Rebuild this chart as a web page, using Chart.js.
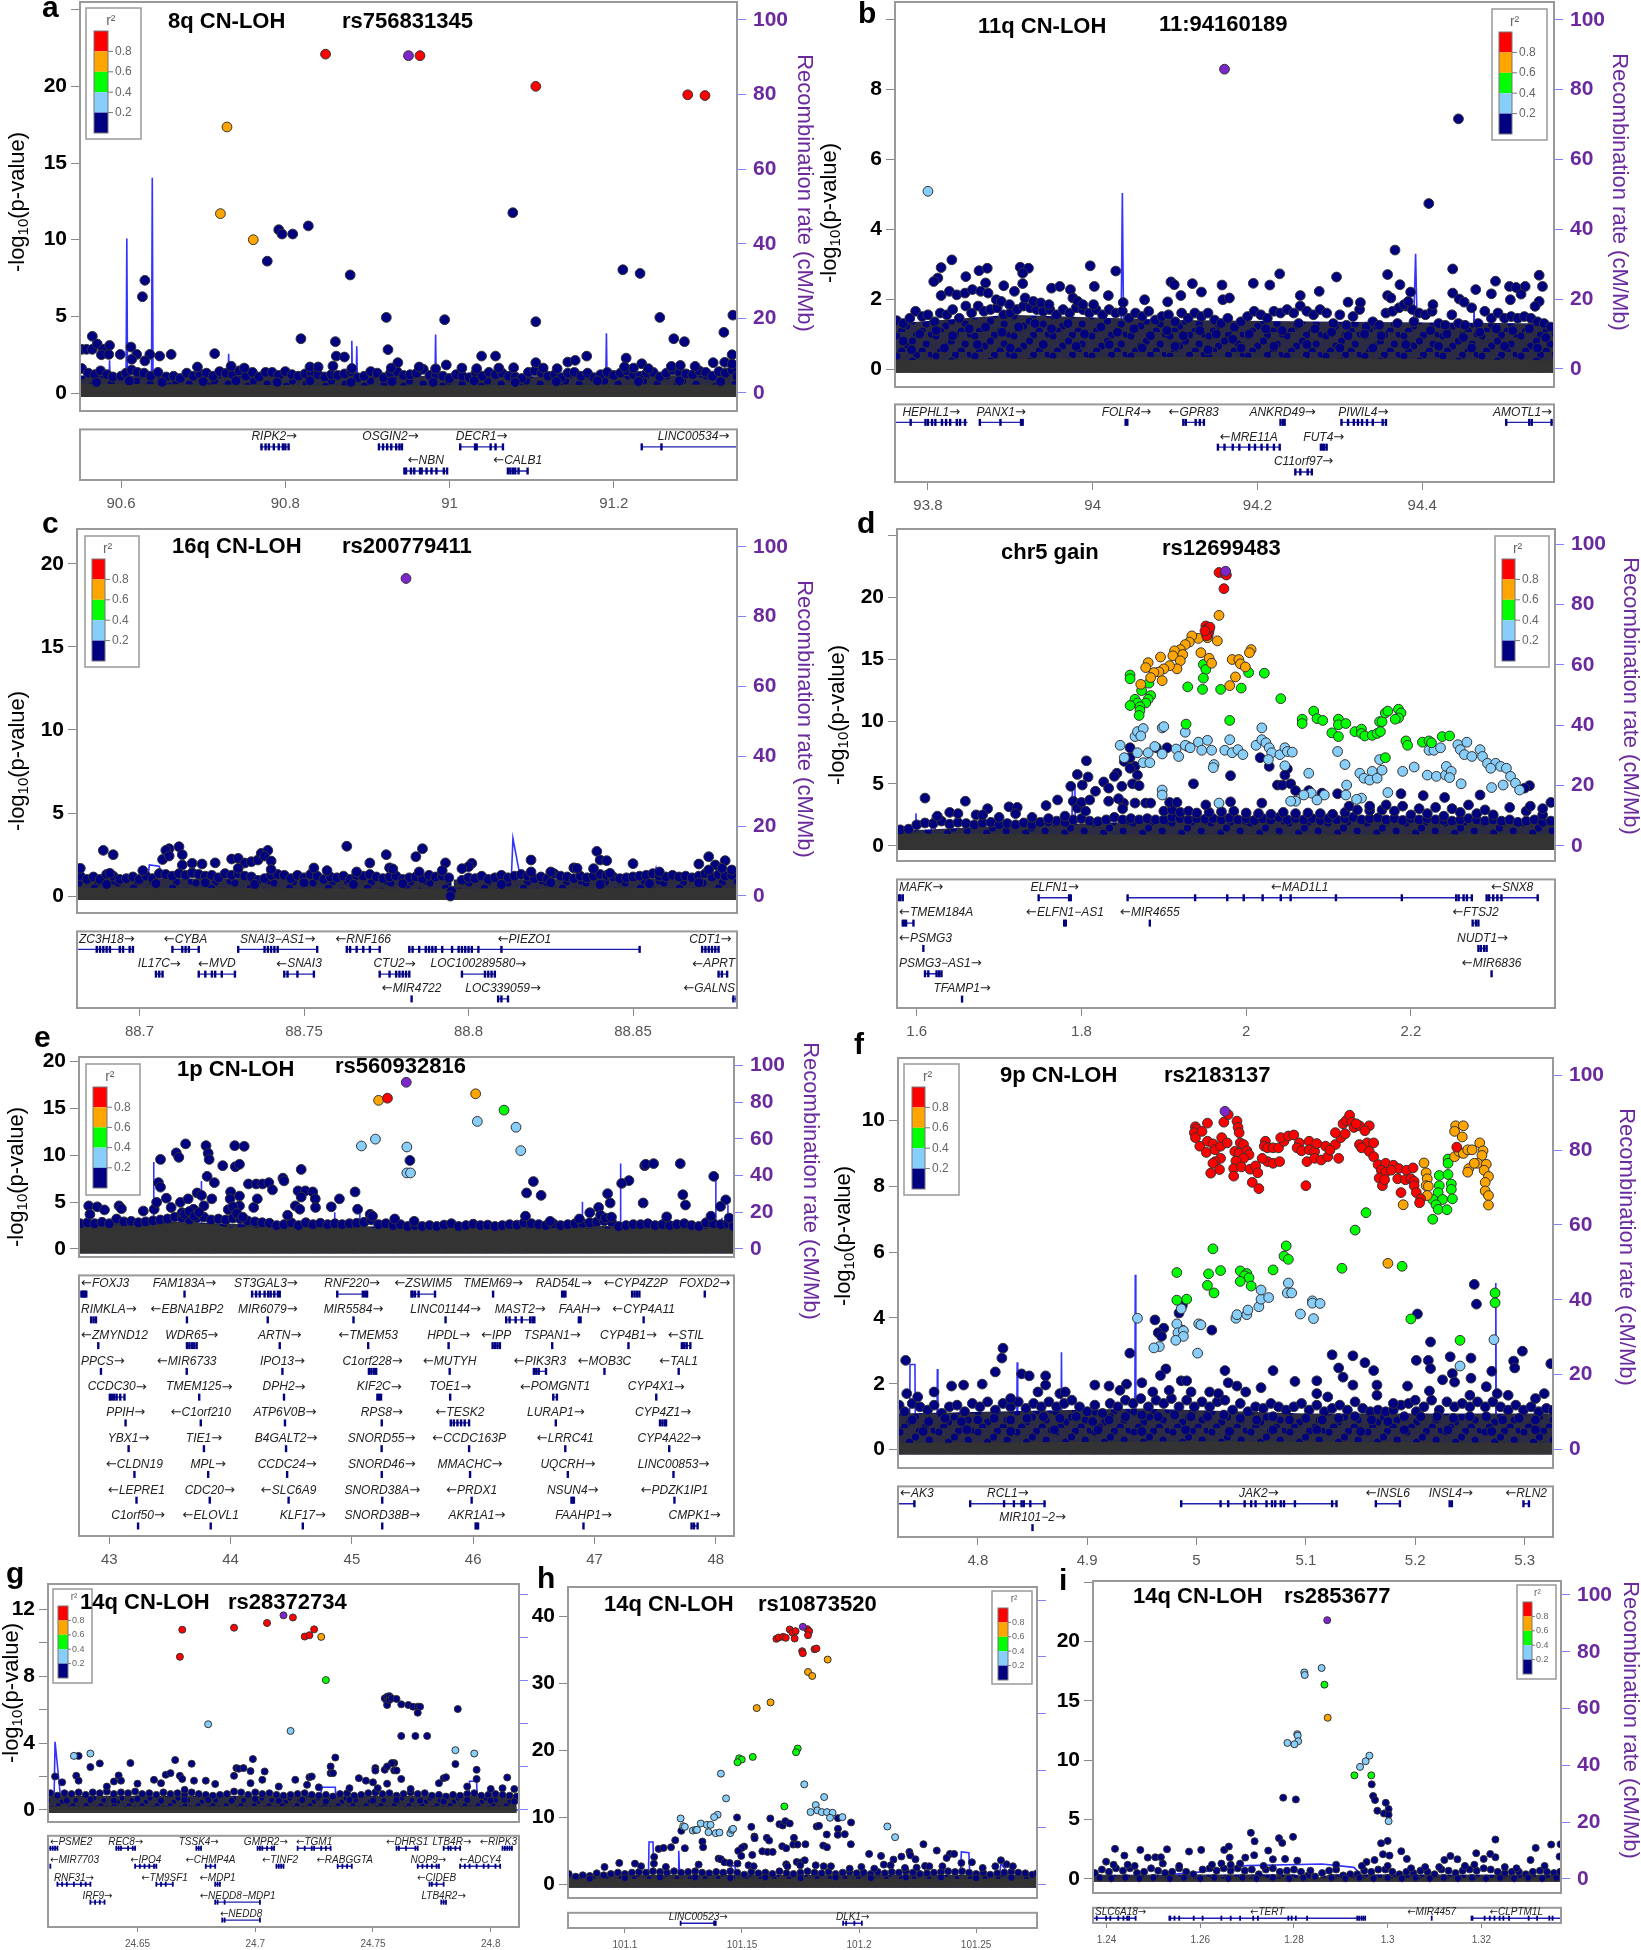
<!DOCTYPE html>
<html>
<head>
<meta charset="utf-8">
<script src="https://cdn.jsdelivr.net/npm/chart.js@4/dist/chart.umd.min.js"></script>
<style>
html,body{margin:0;padding:0;background:#fff;width:1641px;height:1950px;overflow:hidden}
canvas{position:absolute}
</style>
</head>
<body>
<script>
// ---- panel a: 8q CN-LOH
const aPurple=[[90.95,22]];
const aRed=[[90.849,22.1],[90.964,22],[91.105,20],[91.29,19.45],[91.311,19.4]];
const aOrange=[[90.729,17.35],[90.721,11.7],[90.761,10]];
const aNavy=[[91.077,11.76],[90.828,10.9],[90.792,10.65],[90.796,10.37],[90.809,10.37],[90.778,8.6],[90.879,7.7],[91.211,8.04],[91.232,7.8],[90.629,7.35],[90.626,6.28],[90.923,4.93],[90.994,4.78],[91.105,4.65],[91.256,4.93],[91.345,5.08],[91.334,3.96],[91.273,3.54],[91.286,3.35],[90.819,3.54],[90.861,3.35],[90.565,3.7],[90.552,2.85],[90.558,2.85],[90.565,2.85],[90.571,3.2],[90.578,2.85],[90.586,3.1],[90.612,3],[90.925,2.83],[90.576,2.5],[90.585,2.52],[90.599,2.52],[90.619,2.52],[90.635,2.52],[90.647,2.41],[90.661,2.52],[90.714,2.57],[90.862,2.41],[90.872,2.35],[91.039,2.41],[91.056,2.41],[91.167,2.41],[91.215,2.28],[91.344,2.5],[90.858,1.76],[90.937,1.98],[90.996,1.83],[91.144,2.02],[91.153,2.13],[91.105,1.98],[91.234,1.91],[91.321,1.98],[91.015,1.63],[91.033,1.59],[91.078,1.65],[91.114,1.63],[91.131,1.59],[91.224,1.63],[91.242,1.59],[91.27,1.74],[91.281,1.8],[91.299,1.74],[91.213,1.7],[91.335,2],[91.344,1.9],[90.613,2.2],[90.629,2.1],[90.693,1.7],[90.734,1.75],[90.75,1.63],[90.83,1.7],[90.84,1.7],[90.881,1.6],[90.929,1.63],[90.963,1.7],[90.983,1.58],[91.06,1.63]];
const aMass=[[90.552,1.6],[90.56,1.3],[90.568,1.2],[90.575,1.45],[90.583,1.2],[90.59,1.05],[90.6,1.1],[90.606,1.3],[90.613,1.5],[90.62,1.35],[90.628,1.3],[90.636,1.1],[90.645,1.35],[90.655,1.05],[90.664,1.1],[90.672,.95],[90.68,1.3],[90.688,1.1],[90.696,1.25],[90.704,1.3],[90.712,1.1],[90.72,1.4],[90.728,1.3],[90.736,1.2],[90.744,1.45],[90.752,1.1],[90.76,1.35],[90.768,1.05],[90.776,1.35],[90.784,1.35],[90.792,1.15],[90.8,1.4],[90.808,1.2],[90.816,1.1],[90.824,1.25],[90.832,1.3],[90.84,1.2],[90.848,1.05],[90.856,1.2],[90.864,1.15],[90.872,1.25],[90.88,1.4],[90.888,1],[90.896,1.1],[90.904,1.4],[90.912,1.3],[90.92,1],[90.928,1.3],[90.936,1.4],[90.944,1.15],[90.952,1.2],[90.96,1.3],[90.968,1.55],[90.976,1.15],[90.984,1.2],[90.992,1.1],[91,.95],[91.008,1.2],[91.016,1.1],[91.024,1],[91.032,1.3],[91.04,1.1],[91.048,1.35],[91.056,1.2],[91.064,1.3],[91.072,1.1],[91.08,1.05],[91.088,.95],[91.096,1.35],[91.104,1.45],[91.112,1.3],[91.12,1.1],[91.128,1.2],[91.136,1],[91.144,1.3],[91.152,1.35],[91.16,1.1],[91.168,1.3],[91.176,1],[91.184,1.2],[91.192,1.35],[91.2,1.15],[91.208,1.3],[91.216,1.45],[91.224,1.2],[91.232,1.1],[91.24,1.3],[91.248,1.35],[91.256,1.05],[91.264,1.3],[91.272,1.5],[91.28,1.35],[91.288,1.25],[91.296,1.2],[91.304,1.45],[91.312,1.35],[91.32,1.1],[91.328,1.4],[91.336,1.3],[91.344,1.5],[91.35,1.1],[90.57,.7],[90.61,.8],[90.65,.7],[90.7,.75],[90.74,.8],[90.79,.7],[90.83,.8],[90.88,.7],[90.93,.75],[90.98,.7],[91.03,.8],[91.08,.7],[91.13,.75],[91.18,.8],[91.23,.75],[91.28,.8],[91.33,.75]];
const aBand=[[90.55,1.15],[90.8,1.15],[91.1,1.1],[91.35,1.2]];
const aFloor=[[90.55,.6],[90.9,.5],[91.35,.55]];
const aRecX=[90.5,90.585,90.586,90.587,90.606,90.607,90.608,90.637,90.638,90.639,90.73,90.731,90.732,90.88,90.881,90.882,90.886,90.887,90.888,90.982,90.983,90.984,91.19,91.191,91.192,91.35];
const aRecY=[0,0,8.8,0,0,41.4,0,0,57.7,0,0,10.5,0,0,14,0,0,12.5,0,0,15.7,0,0,16,0,0];
const aGenes=[["RIPK2→",0,90.769,90.804,[90.771,90.776,90.78,90.786,90.792,90.797,90.8,90.804]],["OSGIN2→",0,90.914,90.942,[90.914,90.919,90.924,90.929,90.935,90.939,90.942]],["DECR1→",0,91.013,91.065,[91.013,91.031,91.033,91.05,91.056,91.065]],["LINC00534→",0,91.234,91.36,[91.234,91.258]],["←NBN",1,90.945,90.997,[90.945,90.947,90.953,90.957,90.964,90.966,90.972,90.978,90.984,90.993,90.997]],["←CALB1",1,91.071,91.095,[91.071,91.074,91.077,91.08,91.084,91.095]]];

// ---- panel b: 11q CN-LOH
const bPurple=[[94.16,8.57]];
const bSky=[[93.8,5.08]];
const bNavy=[[94.444,7.15],[94.408,4.73],[94.367,3.4],[93.829,3.12],[93.816,2.9],[93.997,2.95],[94.028,2.8],[93.912,2.91],[93.922,2.88],[93.915,2.74],[93.862,2.81],[93.872,2.88],[93.846,2.64],[93.812,2.6],[93.807,2.5],[94.227,2.72],[94.296,2.63],[94.358,2.7],[94.437,2.86],[94.542,2.68],[94.489,2.51],[94.095,2.49],[94.099,2.41],[94.121,2.44],[94.157,2.4],[94.195,2.45],[94.215,2.4],[94.373,2.41],[94.546,2.36],[94.506,2.36],[94.514,2.33],[94.525,2.36],[93.892,2.38],[93.915,2.44],[93.95,2.31],[93.96,2.36],[93.973,2.27],[94.002,2.36],[94.132,2.2],[94.275,2.22],[94.465,2.27],[94.386,2.2],[94.437,2.17],[94.484,2.15],[94.52,2.14],[94.019,2.1],[94.107,2.1],[94.252,2.1],[94.358,2.1],[94.158,1.98],[94.166,2.03],[94.445,2],[94.451,1.91],[94.507,1.98],[93.816,2.1],[93.826,2.22],[93.835,2.12],[93.845,2.17],[93.854,2.27],[93.864,2.22],[93.87,2.46],[93.873,2.17],[93.883,1.98],[93.889,1.93],[93.899,1.84],[93.905,2.22],[93.918,2.03],[93.928,1.93],[93.937,1.89],[93.947,1.84],[93.976,2.03],[93.982,1.93],[93.988,1.84],[94.001,1.84],[94.037,1.9],[94.063,1.98],[94.091,1.92],[94.31,1.91],[94.325,1.9],[94.362,2.03],[94.378,1.84],[94.383,1.93],[94.413,1.84],[94.542,1.93],[94.537,1.79]];
const bMass=[[93.762,1.38],[93.77,1.3],[93.778,1.45],[93.785,1.65],[93.793,1.5],[93.8,1.55],[93.808,1.35],[93.815,1.6],[93.823,1.55],[93.83,1.7],[93.838,1.45],[93.846,1.8],[93.853,1.6],[93.861,1.8],[93.868,1.65],[93.876,1.7],[93.884,1.75],[93.892,1.55],[93.9,1.6],[93.908,1.7],[93.916,1.8],[93.924,1.75],[93.932,1.7],[93.94,1.65],[93.948,1.7],[93.956,1.55],[93.964,1.7],[93.972,1.6],[93.98,1.75],[93.988,1.7],[93.996,1.6],[94.004,1.7],[94.012,1.55],[94.02,1.7],[94.028,1.6],[94.036,1.65],[94.044,1.45],[94.052,1.6],[94.06,1.5],[94.068,1.65],[94.076,1.4],[94.084,1.5],[94.092,1.55],[94.1,1.35],[94.108,1.6],[94.116,1.45],[94.124,1.6],[94.132,1.5],[94.14,1.6],[94.148,1.4],[94.156,1.3],[94.164,1.45],[94.172,1.2],[94.18,1.35],[94.188,1.5],[94.196,1.65],[94.204,1.55],[94.212,1.45],[94.22,1.65],[94.228,1.6],[94.236,1.7],[94.244,1.6],[94.252,1.8],[94.26,1.65],[94.268,1.55],[94.276,1.7],[94.284,1.6],[94.292,1.3],[94.3,1.55],[94.308,1.25],[94.316,1.5],[94.324,1.7],[94.332,1.2],[94.34,1.35],[94.348,1.25],[94.356,1.6],[94.364,1.65],[94.372,1.75],[94.38,1.8],[94.388,1.7],[94.396,1.6],[94.404,1.55],[94.412,1.65],[94.42,1.3],[94.428,1.25],[94.436,1.55],[94.444,1.3],[94.452,1.25],[94.46,1.75],[94.468,1.3],[94.476,1.65],[94.484,1.45],[94.492,1.6],[94.5,1.45],[94.508,1.5],[94.516,1.45],[94.524,1.5],[94.532,1.45],[94.54,1.35],[94.548,1.3],[94.556,1.2],[93.77,.8],[93.79,1],[93.81,1.1],[93.83,.95],[93.85,1.15],[93.87,1.2],[93.89,1.05],[93.91,1.2],[93.93,1.3],[93.95,1.15],[93.97,1.3],[93.99,1],[94.01,1.2],[94.03,1.05],[94.05,1.15],[94.07,.95],[94.09,1.1],[94.11,.95],[94.13,1.1],[94.15,1],[94.17,.85],[94.19,1],[94.21,1.15],[94.23,1.1],[94.25,1.3],[94.27,1.15],[94.29,1.05],[94.31,.95],[94.33,1],[94.35,.95],[94.37,1.3],[94.39,1.35],[94.41,1.1],[94.43,1],[94.45,.9],[94.47,1.05],[94.49,1.15],[94.51,1.1],[94.53,1.15],[94.55,.9],[93.78,.55],[93.82,.6],[93.86,.7],[93.9,.6],[93.94,.7],[93.98,.65],[94.02,.7],[94.06,.6],[94.1,.65],[94.14,.55],[94.18,.6],[94.22,.65],[94.26,.7],[94.3,.6],[94.34,.6],[94.38,.7],[94.42,.65],[94.46,.6],[94.5,.65],[94.54,.6]];
const bBand=[[93.76,1.3],[93.9,1.55],[94.1,1.4],[94.3,1.35],[94.56,1.3]];
const bFloor=[[93.76,.25],[94.1,.35],[94.56,.25]];
const bRecX=[93.7,94.034,94.036,94.038,94.388,94.392,94.395,94.461,94.463,94.465,94.6];
const bRecY=[0,0,50.4,0,0,33,0,0,17,0,0];
const bGenes=[["HEPHL1→",0,93.76,93.848,[93.779,93.797,93.8,93.805,93.809,93.817,93.822,93.827,93.835,93.839,93.845]],["PANX1→",0,93.863,93.915,[93.863,93.888,93.913,93.915]],["FOLR4→",0,94.04,94.042,[94.04,94.042]],["←GPR83",0,94.11,94.135,[94.11,94.113,94.125,94.13,94.135]],["ANKRD49→",0,94.228,94.233,[94.228,94.231,94.233]],["PIWIL4→",0,94.301,94.356,[94.302,94.31,94.317,94.322,94.327,94.333,94.34,94.352,94.356]],["AMOTL1→",0,94.502,94.56,[94.502,94.53,94.533,94.557]],["←MRE11A",1,94.151,94.228,[94.152,94.16,94.17,94.178,94.19,94.197,94.205,94.212,94.22,94.227]],["FUT4→",1,94.277,94.284,[94.277,94.279,94.281,94.284]],["C11orf97→",2,94.246,94.266,[94.246,94.252,94.261,94.266]]];

// ---- panel c: 16q CN-LOH
const cPurple=[[88.781,19.12]];
const cNavy=[[88.763,3],[88.786,2.85],[88.775,2.49],[88.784,2.37],[88.689,2.75],[88.692,2.49],[88.712,2.97],[88.709,2.85],[88.708,2.75],[88.713,2.49],[88.819,2.17],[88.839,2.69],[88.84,2.17],[88.842,2.13],[88.873,2.37],[88.878,2.13],[88.85,1.95],[88.87,1.93],[88.875,1.87],[88.77,1.99],[88.793,2],[88.801,1.97],[88.8,1.77],[88.798,1.65],[88.728,2.23],[88.73,2.27],[88.732,1.99],[88.734,2.07],[88.736,2.17],[88.737,2.57],[88.739,2.75],[88.738,2.41],[88.74,2.11],[88.74,1.6],[88.73,1.67],[88.723,2],[88.719,1.93],[88.716,1.97],[88.707,2.2],[88.709,2.41],[88.713,1.87],[88.776,1.7],[88.777,1.63],[88.792,1.53],[88.819,1.45],[88.832,1.7],[88.833,1.67],[88.838,1.65],[88.843,1.37],[88.682,1.67],[88.701,1.53],[88.753,1.69],[88.757,1.53],[88.766,1.45],[88.785,1.45],[88.825,1.45],[88.858,1.45],[88.873,1.57],[88.877,1.67],[88.88,1.57],[88.691,1.37]];
const cMass=[[88.682,1.2],[88.684,1],[88.686,1.15],[88.688,1],[88.69,1.3],[88.692,1.2],[88.694,1],[88.696,1.05],[88.698,1.15],[88.7,1],[88.702,1.2],[88.704,1.05],[88.706,1.35],[88.708,1.3],[88.71,1.2],[88.712,1.35],[88.714,1.25],[88.716,1.4],[88.718,1.3],[88.72,1.2],[88.722,1.25],[88.724,1.1],[88.726,1.35],[88.728,1.25],[88.73,1.35],[88.732,1.2],[88.734,1.15],[88.736,.95],[88.738,1.05],[88.74,1.25],[88.742,1.3],[88.744,1.25],[88.746,1.05],[88.748,1.25],[88.75,1.1],[88.752,1.3],[88.754,1.2],[88.756,1],[88.758,1.15],[88.76,1.1],[88.762,1.2],[88.764,1],[88.766,1.25],[88.768,1.2],[88.77,1.3],[88.772,1.15],[88.774,1.05],[88.776,1.15],[88.778,1.2],[88.78,1],[88.782,1.1],[88.784,1.15],[88.786,1.05],[88.788,1.25],[88.79,1.15],[88.792,1.2],[88.794,1.1],[88.798,.95],[88.8,1.1],[88.802,1.05],[88.804,1.2],[88.806,1],[88.808,1.1],[88.81,1.25],[88.812,1.1],[88.814,1.2],[88.816,1.3],[88.818,1.2],[88.82,1.05],[88.822,1.15],[88.824,1.05],[88.826,1.35],[88.828,1.2],[88.83,1.15],[88.832,1.05],[88.834,1.2],[88.836,1.1],[88.838,1.2],[88.84,1.3],[88.842,1.25],[88.844,1.15],[88.846,1.05],[88.848,1.1],[88.85,1.15],[88.852,1.2],[88.854,1.25],[88.856,1.35],[88.858,1.2],[88.86,1.15],[88.862,1.25],[88.864,1.15],[88.866,1.2],[88.868,1.1],[88.87,1.2],[88.872,1.35],[88.874,1.15],[88.876,1.3],[88.878,1.2],[88.88,1.25],[88.69,.7],[88.705,.75],[88.72,.8],[88.735,.7],[88.75,.8],[88.765,.7],[88.78,.75],[88.81,.7],[88.825,.8],[88.84,.7],[88.855,.75],[88.87,.8],[88.7948,.3],[88.7945,0]];
const cBand=[[88.681,1.05],[88.7948,1.05],[88.7949,-.24],[88.7954,-.24],[88.7955,1],[88.882,1.05]];
const cFloor=[[88.681,.5],[88.7948,.45],[88.7949,-.24],[88.7954,-.24],[88.7955,.45],[88.882,.5]];
const cRecX=[88.68,88.702,88.703,88.706,88.707,88.7075,88.8128,88.8135,88.816,88.817,88.855,88.857,88.859,88.89];
const cRecY=[0,0,8.9,8.5,5,0,0,16.5,4,0,0,8,0,0];
const cGenes=[["ZC3H18→",0,88.681,88.698,[88.687,88.688,88.689,88.69,88.691,88.694,88.695,88.697,88.698]],["←CYBA",0,88.71,88.718,[88.71,88.713,88.714,88.715,88.718]],["SNAI3−AS1→",0,88.73,88.754,[88.73,88.738,88.739,88.74,88.741,88.742,88.754]],["←RNF166",0,88.763,88.773,[88.763,88.764,88.766,88.768,88.77,88.773]],["←PIEZO1",0,88.782,88.852,[88.782,88.783,88.785,88.787,88.788,88.789,88.79,88.792,88.795,88.797,88.798,88.799,88.8,88.801,88.803,88.81,88.852]],["CDT1→",0,88.871,88.876,[88.871,88.872,88.873,88.874,88.875,88.876]],["IL17C→",1,88.705,88.707,[88.705,88.706,88.707]],["←MVD",1,88.718,88.729,[88.718,88.72,88.722,88.723,88.725,88.729]],["←SNAI3",1,88.744,88.753,[88.744,88.745,88.748,88.753]],["CTU2→",1,88.773,88.782,[88.773,88.776,88.778,88.779,88.78,88.781,88.782]],["LOC100289580→",1,88.798,88.808,[88.798,88.805,88.806,88.807,88.808]],["←APRT",1,88.876,88.8786,[88.876,88.877,88.8786]],["←MIR4722",2,88.7827],["LOC339059→",2,88.809,88.812,[88.809,88.81,88.812]],["←GALNS",2,88.88,88.8815,[88.8805,88.8815]]];

// ---- panel d: chr5 gain
const dPurple=[[1.975,22.1]];
const dRed=[[1.967,22],[1.974,21.9],[1.976,21.8],[1.973,20.7],[1.951,17.7],[1.953,17.5],[1.955,17.3],[1.954,17],[1.952,16.9],[1.956,17.6],[1.95,17.3]];
const dOrange=[[1.967,18.55],[1.965,16.5],[1.953,16.75],[1.942,16.7],[1.934,16.9],[1.931,16.4],[1.926,16.2],[1.92,15.8],[1.913,15.7],[1.923,15.4],[1.911,15.3],[1.896,15.2],[1.92,14.9],[1.916,14.25],[1.907,14.5],[1.9,14.25],[1.894,14],[1.888,13.95],[1.881,14.75],[1.878,14.35],[1.884,13.55],[1.898,13.3],[1.872,13],[1.945,15.55],[1.955,15.1],[1.958,14.7],[1.983,15],[1.991,15],[1.993,14.65],[1.999,14.4],[2.006,15.8],[2.004,15.55],[1.987,13.6],[1.98,12.9]];
const dGreen=[[1.859,13.75],[1.859,13.45],[1.882,13.1],[1.873,12.5],[1.948,14.6],[1.951,14.2],[1.948,13.5],[2.003,13.95],[2.022,13.9],[1.929,12.8],[1.947,12.6],[1.969,12.6],[1.994,12.7],[2.042,11.85],[1.884,12.1],[1.881,11.8],[1.878,11.5],[1.865,11.8],[1.868,11.5],[1.859,11.3],[1.871,11.2],[1.871,10.9],[1.87,10.5],[1.927,9.8],[1.98,10.1],[2.068,10.2],[2.068,9.85],[2.082,10.85],[2.086,10.25],[2.093,10.1],[2.104,9.1],[2.112,8.8],[2.112,10.2],[2.112,9.75],[2.121,9.85],[2.132,9.2],[2.14,9.4],[2.14,9.05],[2.144,8.85],[2.153,8.9],[2.159,9.05],[2.163,9.2],[2.162,10],[2.165,10],[2.169,10.7],[2.172,10.85],[2.185,11],[2.188,10.7],[2.185,10.3],[2.181,10.2],[2.194,8.45],[2.196,8.1],[2.214,8.35],[2.222,8.45],[2.225,8.3],[2.238,8.8],[2.247,8.85],[2.169,7.1]];
const dSky=[[1.847,8.1],[1.865,8.8],[1.868,9.2],[1.875,9.45],[1.872,8.85],[1.898,9.5],[1.9,9.6],[1.926,9.15],[2.019,9.5],[1.852,7.1],[1.868,7.5],[1.881,7.5],[1.889,8],[1.898,7.4],[1.875,6.7],[1.883,6.7],[1.915,7.8],[1.918,7.2],[1.926,8.1],[1.932,7.9],[1.942,8.35],[1.953,8.5],[1.946,7.7],[1.958,7.7],[1.974,7.7],[1.961,6.55],[1.96,6.3],[1.98,8.55],[1.983,7.5],[1.99,7.75],[1.996,7.35],[2.012,8.1],[2.019,8.55],[2.024,8.3],[2.028,7.9],[2.031,7.5],[2.041,7.35],[2.047,7.9],[2.05,7.6],[2.056,7.55],[2.027,6.95],[2.047,6.45],[2.076,5.85],[2.111,7.6],[2.12,6.55],[2.122,4.9],[2.138,5.85],[2.143,5.45],[2.153,6],[2.15,5.3],[2.159,5.45],[2.162,6.95],[2.165,6.1],[2.19,6],[2.204,6.35],[2.22,5.7],[2.222,7.7],[2.228,7.7],[2.236,7.9],[2.231,5.6],[2.242,5.7],[2.243,6.4],[2.249,6],[2.247,5.5],[2.261,5],[2.257,8.15],[2.26,7.75],[2.268,8.35],[2.265,7.35],[2.274,7.2],[2.284,7.75],[2.287,7.2],[2.293,6.65],[2.303,6.65],[2.309,6.4],[2.316,6.25],[2.297,6.25],[2.321,5.6],[2.327,5.05],[2.312,4.9],[2.298,4.7],[2.332,4.5],[2.172,4.3],[2.14,3.85],[2.134,3.75],[2.121,4.1],[2.095,4.1],[2.079,4.25],[2.07,4.1],[2.06,3.6],[2.054,3.6],[2.086,3.7],[1.898,4.5],[1.898,4.1],[1.967,3.45]];
const dNavy=[[1.806,6.85],[1.795,5.75],[1.808,5.55],[1.787,4.8],[1.801,4.9],[1.771,3.7],[1.757,3.25],[1.61,3.85],[1.659,3.6],[1.686,3],[1.712,3.15],[1.722,3.1],[1.852,6.8],[1.859,7.1],[1.865,6.4],[1.843,5.85],[1.859,6.25],[1.868,5.7],[1.84,5.6],[1.862,5],[1.827,5.15],[1.817,4.4],[1.833,4.65],[1.849,4.8],[1.87,4.85],[1.936,5],[1.981,5.65],[2.017,7.1],[2.028,6.4],[2.05,6.2],[2.047,5.7],[2.038,4.9],[2.044,4.9],[2.054,5],[2.06,4.45],[2.076,4.45],[2.092,4.25],[2.111,4.2],[2.188,4.2],[2.215,4.05],[2.241,3.9],[2.284,4.1],[2.344,4.85],[2.338,4.65],[1.891,7.9],[1.904,7.9],[1.929,8],[1.859,7.9],[1.833,3.6],[1.851,3.45],[1.865,3.45],[1.878,3.45],[1.884,3.45],[1.907,3.5],[1.916,3.5],[1.951,3.3],[1.981,3.55],[2.019,3.45],[1.79,3.6],[1.795,3.05],[1.8,3.5],[1.805,2.8],[1.81,3.7],[1.845,3.8],[1.85,3],[2.125,3.2],[2.15,3.2],[2.17,3.3],[2.19,3.2],[2.21,3],[2.23,3.1],[2.25,3],[2.27,3.3],[2.29,2.9],[2.32,3.1],[2.345,3.2],[2.36,3],[2.37,3.5],[1.672,2.5],[1.625,2.4],[1.64,2.7],[1.65,2.6],[1.68,2.5],[1.72,2.6],[1.7,2.3],[1.74,2.3],[1.76,2.2],[1.78,2.4]];
const dMass=[[1.58,1.3],[1.59,1.35],[1.6,1.7],[1.61,1.85],[1.62,1.8],[1.63,2],[1.64,1.75],[1.65,1.9],[1.66,1.8],[1.67,1.7],[1.68,1.85],[1.69,1.9],[1.7,1.7],[1.71,1.8],[1.72,1.7],[1.73,1.85],[1.74,1.7],[1.75,1.9],[1.76,1.95],[1.77,2],[1.78,1.9],[1.79,2.1],[1.8,2.2],[1.81,2],[1.82,1.95],[1.83,2.1],[1.84,2.3],[1.85,2.1],[1.86,2.2],[1.87,2.1],[1.88,2.2],[1.89,2.1],[1.9,2.1],[1.91,2.3],[1.92,2.2],[1.93,2.1],[1.94,2.2],[1.95,2.15],[1.96,2.2],[1.97,2.1],[1.98,2.25],[1.99,2.1],[2,2.2],[2.01,2.05],[2.02,2.2],[2.03,2.1],[2.04,2.3],[2.05,2.1],[2.06,2.2],[2.07,2.1],[2.08,2.2],[2.09,2.05],[2.1,2.2],[2.11,2.1],[2.12,2.2],[2.13,2.3],[2.14,2.1],[2.15,2.2],[2.16,2.25],[2.17,2.1],[2.18,2.2],[2.19,2.05],[2.2,2.2],[2.21,2.1],[2.22,2.2],[2.23,2.1],[2.24,2.05],[2.25,2],[2.26,2.1],[2.27,2.2],[2.28,2.1],[2.29,2],[2.3,2.1],[2.31,2],[2.32,2.1],[2.33,1.9],[2.34,2],[2.35,2.1],[2.36,1.9],[2.37,2],[1.9,2.8],[1.91,2.9],[1.92,2.7],[1.93,2.8],[1.94,2.65],[1.955,2.7],[1.97,2.75],[1.985,2.8],[2,2.65],[2.015,2.6],[2.03,2.55],[2.045,2.7],[2.06,2.6],[2.075,2.65],[2.09,2.6],[2.105,2.55],[2.12,2.7],[2.135,2.9],[2.15,2.85],[2.165,2.9],[2.18,2.8],[2.2,2.5],[2.22,2.6],[2.24,2.4],[2.26,2.7],[2.28,2.6],[2.3,2.5],[2.34,2.8],[2.36,2.5]];
const dBand=[[1.576,1.2],[1.7,1.6],[1.85,1.9],[1.9,2.4],[2.2,2.4],[2.3,2],[2.375,1.8]];
const dFloor=[[1.576,1],[1.85,.9],[2.375,.95]];
const dRecX=[1.55,1.598,1.599,1.6,1.616,1.619,1.622,1.623,1.788,1.789,1.792,1.793,2.4];
const dRecY=[0,0,10.8,0,0,10,10,0,0,18.8,18.8,0,0];
const dGenes=[["MAFK→",0,1.578,1.583,[1.578,1.58,1.583]],["ELFN1→",0,1.748,1.787,[1.748,1.785,1.787]],["←MAD1L1",0,1.856,2.274,[1.856,1.938,1.977,1.997,2.02,2.042,2.054,2.109,2.189,2.255,2.258,2.264,2.268,2.274]],["←SNX8",0,2.292,2.354,[2.292,2.295,2.3,2.305,2.31,2.354]],["←TMEM184A",1,1.583,1.596,[1.583,1.585,1.587,1.596]],["←ELFN1−AS1",1,1.779,1.781,[1.779,1.781]],["←MIR4655",1,1.883],["←FTSJ2",1,2.275,2.282,[2.275,2.279,2.282]],["←PSMG3",2,1.608],["NUDT1→",2,2.282,2.292,[2.282,2.285,2.289,2.292]],["PSMG3−AS1→",3,1.61,1.63,[1.61,1.614,1.624,1.627,1.63]],["←MIR6836",3,2.298],["TFAMP1→",4,1.655]];

// ---- panel e: 1p CN-LOH
const ePurple=[[45.448,17.8]];
const eRed=[[45.293,16.1]];
const eOrange=[[45.22,15.87],[46.02,16.57]];
const eGreen=[[46.254,14.83]];
const eSky=[[45.078,11],[45.194,11.73],[45.453,10.89],[46.034,13.62],[46.353,13],[46.392,10.5],[45.453,8.12],[45.483,8.12]];
const eNavy=[[43.629,11.22],[43.552,10.26],[43.573,9.78],[43.797,11.03],[43.815,10.22],[43.823,9.56],[44.034,11.03],[44.112,10.96],[43.422,9.56],[43.935,8.89],[44.039,8.78],[44.073,9.04],[44.582,8.49],[45.478,9.45],[43.806,7.75],[43.866,7.08],[43.405,7.08],[43.422,6.6],[44.147,6.94],[44.211,6.94],[44.263,6.94],[44.315,7.08],[44.345,6.31],[44.431,7.56],[44.44,7.27],[44.556,6.2],[44.616,6.2],[44.677,6.09],[45.026,6.09],[44,6.09],[44.073,5.65],[44.582,5.54],[44.698,5.35],[44.897,5.35],[46.496,7.2],[46.44,5.98],[46.56,5.72],[47.414,8.89],[47.422,9.04],[47.487,9.11],[47.707,9.11],[47.983,7.75],[47.284,7.3],[47.224,7],[47.108,5.9],[47.129,4.91],[47.401,4.91],[47.728,5.79],[47.75,4.69],[48.082,5.24],[48.039,4.54],[47.595,3.43],[46.961,3.87],[47.034,4.43],[46.431,3.5],[42.83,4.6],[42.84,3.7],[42.9,4.5],[42.96,4.17],[43.08,4.6],[43.1,4.3],[43.28,4.05],[43.37,4.24],[43.39,4.98],[43.47,5.42],[43.51,4.43],[43.586,4.98],[43.65,5.35],[43.724,5.98],[43.76,5.72],[43.845,5.35],[43.78,4.6],[43.694,4.24],[43.6,3.87],[43.996,5.35],[44.073,4.6],[44.19,4.43],[44.22,5.35],[44.534,4.6],[44.57,4.24],[44.83,4.5],[44.7,4.43],[45.047,4.24],[44.47,3.6],[45.15,3.7],[45.17,3.5],[45.353,3.2],[45.513,2.95],[46.634,2.95],[47.96,3.5],[46.875,3.2],[48.11,3.3],[43.62,3.7],[43.66,4],[43.7,3.5],[43.74,3.9],[43.98,4.2],[44.02,4.5],[44.05,3.8],[44.1,3.4],[47.05,3.6],[47.09,3.3],[47.14,3.4]];
const eMass=[[42.76,2.7],[42.82,2.8],[42.88,2.7],[42.94,2.85],[43,2.7],[43.06,3.2],[43.12,2.9],[43.18,2.95],[43.24,2.8],[43.3,2.9],[43.36,3],[43.42,3.1],[43.48,3.2],[43.54,3.4],[43.6,3.3],[43.66,3.1],[43.72,3.3],[43.78,3.4],[43.84,3.1],[43.9,3.2],[43.96,3.1],[44.02,3.3],[44.08,3.2],[44.14,3],[44.2,2.9],[44.26,2.8],[44.32,2.75],[44.38,2.5],[44.44,2.6],[44.5,2.8],[44.56,2.5],[44.62,2.8],[44.68,2.6],[44.74,2.75],[44.8,2.6],[44.86,2.7],[44.92,2.6],[44.98,2.7],[45.04,2.75],[45.1,2.85],[45.16,3.1],[45.22,2.6],[45.28,2.7],[45.34,2.5],[45.4,2.6],[45.46,2.4],[45.52,2.5],[45.58,2.4],[45.64,2.5],[45.7,2.4],[45.76,2.55],[45.82,2.7],[45.88,2.4],[45.94,2.5],[46,2.65],[46.06,2.5],[46.12,2.55],[46.18,2.4],[46.24,2.5],[46.3,2.6],[46.36,2.55],[46.42,2.8],[46.48,2.7],[46.54,2.6],[46.6,2.5],[46.66,2.7],[46.72,2.5],[46.78,2.6],[46.84,2.7],[46.9,2.75],[46.96,2.8],[47.02,2.9],[47.08,3],[47.14,2.9],[47.2,2.4],[47.26,2.5],[47.32,2.6],[47.38,2.6],[47.44,2.7],[47.5,2.5],[47.56,2.6],[47.62,2.5],[47.68,2.6],[47.74,2.7],[47.8,2.5],[47.86,2.4],[47.92,2.8],[47.98,2.7],[48.04,2.6],[48.1,2.7],[48.145,2.4]];
const eBand=[[42.75,2.65],[43.5,2.9],[44.2,2.6],[45.5,2.35],[46.5,2.45],[48.15,2.45]];
const eFloor=[[42.75,2.3],[43.6,2.8],[43.8,2.7],[44,2.3],[48.15,2.15]];
const eRecX=[42.7,43.365,43.366,43.367,43.758,43.759,43.76,44.857,44.858,44.859,45.064,45.065,45.066,46.899,46.9,46.901,47.214,47.215,47.216,47.659,47.66,47.661,47.999,48,48.001,48.049,48.05,48.051,48.099,48.1,48.101,48.2];
const eRecY=[0,0,47.4,0,0,37,0,0,20,0,0,20,0,0,25.7,0,0,46.6,0,0,16,0,0,38,0,0,17,0,0,24,0,0];
const eGenes=[["←FOXJ3",0,42.77,42.81,[42.77,42.78,42.79,42.8,42.81]],["FAM183A→",0,43.62],["ST3GAL3→",0,44.177,44.405,[44.177,44.21,44.24,44.28,44.31,44.33,44.36,44.39,44.405]],["RNF220→",0,44.879,45.125,[44.879,45.09,45.11,45.125]],["←ZSWIM5",0,45.491,45.685,[45.491,45.5,45.52,45.55,45.685]],["TMEM69→",0,46.164],["RAD54L→",0,46.733,46.76,[46.733,46.745,46.76]],["←CYP4Z2P",0,47.31,47.37,[47.31,47.33,47.35,47.37]],["FOXD2→",0,47.909],
["RIMKLA→",1,42.85,42.89,[42.85,42.87,42.89]],["←EBNA1BP2",1,43.64],["MIR6079→",1,44.306],["MIR5584→",1,45.013],["LINC01144→",1,45.772],["MAST2→",1,46.272,46.504,[46.272,46.3,46.35,46.4,46.47,46.49,46.504]],["FAAH→",1,46.871,46.885,[46.871,46.885]],["←CYP4A11",1,47.405],
["←ZMYND12",2,42.909],["WDR65→",2,43.64,43.72,[43.64,43.66,43.68,43.7,43.72]],["ARTN→",2,44.405],["←TMEM53",2,45.134],["HPDL→",2,45.797],["←IPP",2,46.16,46.22,[46.16,46.18,46.2,46.22]],["TSPAN1→",2,46.651],["CYP4B1→",2,47.28],["←STIL",2,47.72,47.79,[47.72,47.74,47.76,47.79]],
["PPCS→",3,42.931],["←MIR6733",3,43.638],["IPO13→",3,44.427],["C1orf228→",3,45.14,45.2,[45.14,45.16,45.18,45.2]],["←MUTYH",3,45.806],["←PIK3R3",3,46.5,46.6,[46.5,46.52,46.54,46.6]],["←MOB3C",3,47.082],["←TAL1",3,47.694],
["CCDC30→",4,43.004,43.125,[43.004,43.02,43.04,43.06,43.09,43.125]],["TMEM125→",4,43.741],["DPH2→",4,44.44],["KIF2C→",4,45.21,45.24,[45.21,45.224,45.24]],["TOE1→",4,45.81],["←POMGNT1",4,46.66,46.69,[46.66,46.69]],["CYP4X1→",4,47.509],
["PPIH→",5,43.134],["←C1orf210",5,43.754],["ATP6V0B→",5,44.448],["RPS8→",5,45.246],["←TESK2",5,45.815,45.966,[45.815,45.84,45.87,45.9,45.93,45.966]],["LURAP1→",5,46.681],["CYP4Z1→",5,47.54,47.59,[47.54,47.56,47.58,47.59]],
["YBX1→",6,43.159],["TIE1→",6,43.78],["B4GALT2→",6,44.457],["SNORD55→",6,45.245],["←CCDC163P",6,45.966],["←LRRC41",6,46.759],["CYP4A22→",6,47.616],
["←CLDN19",7,43.207],["MPL→",7,43.815],["CCDC24→",7,44.466],["SNORD46→",7,45.246],["MMACHC→",7,45.974],["UQCRH→",7,46.78],["LINC00853→",7,47.651],
["←LEPRE1",8,43.224],["CDC20→",8,43.828],["←SLC6A9",8,44.478],["SNORD38A→",8,45.25],["←PRDX1",8,45.987],["NSUN4→",8,46.81,46.83,[46.81,46.82,46.83]],["←PDZK1IP1",8,47.659],
["C1orf50→",9,43.237],["←ELOVL1",9,43.836],["KLF17→",9,44.595],["SNORD38B→",9,45.25],["AKR1A1→",9,46.02,46.04,[46.02,46.03,46.04]],["FAAHP1→",9,46.909],["CMPK1→",9,47.8,47.85,[47.8,47.82,47.85]]];

// ---- panel f: 9p CN-LOH
const fPurple=[[5.026,10.28]];
const fRed=[[4.999,9.81],[5,9.74],[4.998,9.63],[4.999,9.48],[5.005,9.67],[5.01,9.92],[5.003,9.22],[5.009,9.03],[5.01,9.37],[5.015,9.29],[5.017,9.11],[5.022,9.22],[5.023,9.48],[5.028,9.32],[5.025,9.95],[5.029,10.18],[5.037,9.98],[5.038,9.79],[5.039,9.63],[5.04,9.32],[5.043,9.27],[5.035,9.06],[5.039,9.01],[5.046,9.08],[5.048,8.96],[5.043,8.85],[5.036,8.77],[5.022,8.85],[5.017,8.75],[5.015,8.7],[5.021,8.51],[5.013,8.4],[5.034,8.54],[5.034,8.31],[5.041,8.59],[5.049,8.52],[5.054,8.62],[5.056,8.41],[5.051,8.12],[5.057,7.93],[5.063,9.37],[5.062,9.22],[5.065,9.17],[5.07,9.17],[5.075,9.17],[5.08,9.37],[5.077,9.48],[5.084,9.53],[5.089,9.56],[5.094,9.32],[5.092,9.17],[5.096,9.08],[5.103,9.37],[5.103,9.11],[5.108,9.06],[5.101,8.75],[5.108,8.85],[5.114,8.8],[5.118,9.22],[5.12,8.9],[5.127,9.27],[5.13,8.85],[5.132,9.48],[5.127,9.63],[5.134,9.9],[5.137,10],[5.14,10.16],[5.142,9.95],[5.144,9.79],[5.149,9.84],[5.158,9.84],[5.154,9.69],[5.149,9.27],[5.156,9.32],[5.162,9.32],[5.151,9.17],[5.158,9.06],[5.162,8.9],[5.166,8.66],[5.173,8.7],[5.18,8.64],[5.185,8.54],[5.169,8.49],[5.167,8.25],[5.173,8.43],[5.178,8.49],[5.192,8.49],[5.198,8.56],[5.17,8.02],[5.172,8.2],[5.184,8.23],[5.191,8.2],[5.196,8.23],[5.199,8.15],[5.187,7.81],[5.199,8.02],[5.201,7.81],[5.205,7.62],[5.204,7.5],[5.1,8.02],[5.238,9.19],[5.065,8.75],[5.07,8.7],[5.076,8.75],[5.06,8.85],[5.11,9.3],[5.122,9.1],[5.136,9.6],[5.146,9.9]];
const fOrange=[[5.208,8.71],[5.21,8.41],[5.211,8.23],[5.21,8.02],[5.212,8],[5.211,7.72],[5.189,7.44],[5.237,9.84],[5.244,9.84],[5.236,9.67],[5.243,9.5],[5.236,8.9],[5.24,9.06],[5.244,9],[5.248,9.11],[5.252,9.11],[5.259,9.32],[5.262,9.08],[5.261,8.94],[5.257,8.7],[5.265,8.67],[5.249,8.54],[5.254,8.7],[5.248,8.43],[5.263,8.49],[5.267,8.3],[5.264,8.12],[5.264,7.86],[5.267,7.72],[5.267,7.43],[5.175,5.66]];
const fGreen=[[5.23,8.83],[5.23,8.7],[5.222,8.33],[5.23,8.36],[5.233,8.07],[5.233,7.91],[5.222,8.02],[5.221,7.81],[5.225,7.6],[5.234,7.62],[5.216,7.6],[5.219,7.44],[5.221,7.3],[5.229,7.29],[5.216,7],[5.155,7.2],[5.145,6.67],[5.082,6.19],[5.015,6.1],[5.08,5.88],[5.084,5.78],[5.133,5.51],[5.188,5.57],[5.07,5.46],[4.982,5.38],[5.011,5.34],[5.022,5.44],[5.04,5.43],[5.046,5.35],[5.044,5.28],[5.048,5.22],[5.04,5.11],[5.01,4.99],[5.05,4.97],[5.016,4.76],[5.273,4.76],[4.991,4.57],[4.982,4.54],[5.273,4.46],[5.196,3.97],[5.241,3.32]];
const fSky=[[4.946,3.99],[4.986,4.28],[4.982,3.82],[4.983,3.55],[4.988,3.61],[4.988,3.44],[4.981,3.32],[4.966,3.13],[4.961,3.09],[5.002,3.82],[5.004,3.79],[5.001,2.93],[5.036,3.99],[5.037,4.1],[5.046,4.1],[5.047,4.24],[5.057,4.34],[5.059,4.57],[5.059,4.85],[5.066,4.62],[5.084,5.06],[5.083,4.76],[5.087,4.76],[5.095,4.12],[5.106,4.52],[5.106,4.45],[5.113,4.44],[5.107,3.98],[5.272,3.34],[5.241,2.54]];
const fNavy=[[5.254,5.02],[5.256,4.42],[5.202,4.12],[4.987,4.38],[4.984,4.15],[4.962,3.94],[4.987,3.63],[4.97,3.69],[4.965,3.55],[4.968,3.44],[5.014,3.63],[5.214,3.27],[4.939,2.93],[4.823,3.08],[4.822,2.78],[4.816,2.36],[4.734,2.71],[5.124,2.88],[5.143,2.85],[5.154,2.64],[5.162,2.4],[5.13,2.48],[5.134,2.2],[5.143,1.96],[5.201,2.71],[5.212,2.71],[5.214,2.46],[5.232,2.82],[5.251,2.78],[5.234,2.31],[5.251,2.17],[5.298,2.99],[5.29,2.69],[5.291,2.48],[5.324,2.61],[5.27,2.38],[4.972,2.45],[4.967,2.25],[5.026,2.4],[5.07,2.4],[5.09,2.07],[5.11,2.09],[4.84,2.3],[4.847,2.24],[4.862,2.24],[4.862,1.96],[4.804,1.99],[4.776,1.93],[4.787,1.96],[4.95,2.03],[4.986,2.09],[4.991,2.09],[5.029,2.03],[5.225,2.12],[5.236,2.05],[4.907,1.96],[4.92,1.93],[4.936,1.99],[5.037,1.93],[5.059,1.88],[5.165,1.96],[5.193,1.93],[5.213,1.78],[5.265,1.91],[4.735,1.7],[4.745,1.6],[4.76,1.75],[4.83,1.55],[4.875,1.7],[4.88,1.75],[4.855,1.75],[4.93,1.8],[4.96,1.75],[4.975,1.8],[4.995,1.75],[5.012,1.75],[5.02,1.7],[5.045,1.75],[5.11,1.7],[5.12,1.6],[5.165,1.65],[5.18,1.4],[5.2,1.5],[5.25,1.65],[5.275,1.7],[5.285,1.65],[5.31,1.55],[5.318,1.7]];
const fMass=[[4.728,1.35],[4.733,1.15],[4.74,1.4],[4.747,1.3],[4.754,1.2],[4.76,1.35],[4.767,1.1],[4.774,1.3],[4.781,1.35],[4.788,1.15],[4.795,1.4],[4.802,1.3],[4.809,1.45],[4.816,1.2],[4.823,1.4],[4.83,1.3],[4.837,1.45],[4.844,1.25],[4.851,1.4],[4.858,1.3],[4.865,1.45],[4.872,1.3],[4.879,1.4],[4.886,1.5],[4.893,1.3],[4.9,1.15],[4.907,1.35],[4.914,1.1],[4.921,1.4],[4.928,1.3],[4.935,1.5],[4.942,1.4],[4.949,1.55],[4.956,1.3],[4.963,1.5],[4.97,1.4],[4.977,1.55],[4.984,1.3],[4.991,1.5],[4.998,1.3],[5.005,1.45],[5.012,1.3],[5.019,1.45],[5.026,1.5],[5.033,1.2],[5.04,1.4],[5.047,1.15],[5.054,1.3],[5.061,1.25],[5.068,1.4],[5.075,1.3],[5.082,1.2],[5.089,1.3],[5.096,1.4],[5.103,1.2],[5.11,1.35],[5.117,1.15],[5.124,1.25],[5.131,1.35],[5.138,1.2],[5.145,1.45],[5.152,1.25],[5.159,1.15],[5.166,1.2],[5.173,1.15],[5.18,1.2],[5.187,1.35],[5.194,1.4],[5.201,1.15],[5.208,1.3],[5.215,1.5],[5.222,1.2],[5.229,1.45],[5.236,1.3],[5.243,1.4],[5.25,1.3],[5.257,1.45],[5.264,1.3],[5.271,1.45],[5.278,1.3],[5.285,1.2],[5.292,1.35],[5.299,1.2],[5.306,1.3],[5.313,1.15],[5.32,1.25],[5.326,1.2],[4.74,.9],[4.755,.85],[4.77,.95],[4.785,.85],[4.8,.9],[4.815,.95],[4.83,.9],[4.845,.95],[4.86,1],[4.875,.95],[4.89,1],[4.905,.85],[4.92,.9],[4.935,1],[4.95,1.05],[4.965,1],[4.98,1.05],[4.995,1],[5.01,1],[5.025,1.05],[5.04,.95],[5.055,.9],[5.07,1],[5.085,.9],[5.1,.95],[5.115,.9],[5.13,.95],[5.145,1],[5.16,.9],[5.175,.85],[5.19,1],[5.205,1],[5.22,1],[5.235,.95],[5.25,1],[5.265,1],[5.28,.9],[5.295,.95],[5.31,.9],[4.75,.55],[4.79,.6],[4.83,.55],[4.87,.6],[4.91,.6],[4.95,.55],[4.99,.6],[5.03,.55],[5.07,.6],[5.11,.6],[5.15,.55],[5.19,.6],[5.23,.6],[5.27,.55],[5.31,.6]];
const fBand=[[4.727,1.1],[4.95,1.25],[5.1,1.1],[5.326,1.1]];
const fFloor=[[4.727,.2],[5,.25],[5.326,.2]];
const fRecX=[4.7,4.7375,4.738,4.7425,4.743,4.7625,4.763,4.7635,4.8355,4.836,4.8365,4.876,4.8765,4.877,4.9435,4.944,4.9445,5.2732,5.2737,5.2742,5.4];
const fRecY=[0,0,22.7,22.7,0,0,21.5,0,0,23.3,0,0,26,0,0,46.7,0,0,44.5,0,0];
const fGenes=[["←AK3",0,4.727,4.742,[4.742]],["RCL1→",0,4.793,4.862,[4.793,4.824,4.833,4.84,4.842,4.848,4.861]],["JAK2→",0,4.986,5.128,[4.986,5.022,5.029,5.044,5.05,5.054,5.064,5.069,5.072,5.077,5.08,5.09,5.124,5.128]],["←INSL6",0,5.164,5.186,[5.164,5.186]],["INSL4→",0,5.2315,5.2335,[5.2315,5.2335]],["←RLN2",0,5.299,5.304,[5.299,5.304]],["MIR101−2→",1,4.85]];

// ---- panel g: 14q CN-LOH rs28372734
const gPurple=[[24.712,11.63]];
const gRed=[[24.669,10.77],[24.668,9.15],[24.691,10.89],[24.705,11.17],[24.716,11.5],[24.721,10.36],[24.723,10.44],[24.725,10.79]];
const gOrange=[[24.728,10.34]];
const gGreen=[[24.73,7.76]];
const gSky=[[24.68,5.12],[24.715,4.72],[24.623,3.23],[24.63,3.37],[24.785,3.57],[24.793,3.37]];
const gNavy=[[24.755,6.67],[24.756,6.77],[24.757,6.8],[24.756,6.47],[24.756,6.27],[24.757,6.57],[24.758,6.67],[24.76,6.63],[24.762,6.31],[24.765,6.27],[24.767,6.17],[24.769,6.17],[24.77,6.17],[24.769,5.81],[24.786,6.03],[24.762,4.42],[24.768,4.42],[24.773,4.42],[24.625,3.23],[24.734,3.13],[24.666,2.98],[24.699,3.04],[24.634,2.78],[24.647,2.8],[24.673,2.76],[24.732,2.6],[24.63,2.56],[24.692,2.5],[24.693,2.46],[24.695,2.5],[24.698,2.32],[24.704,2.3],[24.732,2.2],[24.733,2.2],[24.759,2.8],[24.758,2.8],[24.785,2.74],[24.794,2.4],[24.751,2.5],[24.751,2.35],[24.755,2.4],[24.759,2.36],[24.76,2.36],[24.756,2.6],[24.624,2.04],[24.615,2],[24.642,2.06],[24.662,2.1],[24.664,2.2],[24.668,2.04],[24.691,2.04],[24.723,1.96],[24.724,2],[24.744,1.9],[24.762,1.85],[24.78,1.9],[24.781,1.95],[24.807,1.94],[24.794,1.85],[24.657,1.8],[24.66,1.6],[24.669,1.85],[24.674,1.75],[24.679,1.75],[24.703,1.8],[24.717,1.8],[24.747,1.75],[24.75,1.65],[24.618,1.65],[24.625,1.75],[24.64,1.7],[24.643,1.75],[24.65,1.57],[24.683,1.55],[24.698,1.6],[24.722,1.5],[24.756,1.57],[24.778,1.6],[24.637,1.4],[24.67,1.2],[24.71,1.4],[24.727,1.35],[24.74,1.3],[24.752,1.3],[24.766,1.25],[24.79,1.4],[24.8,1.25],[24.81,1.25],[24.805,1.3]];
const gMass=[[24.613,1],[24.616,.85],[24.619,1],[24.622,.95],[24.625,1.05],[24.628,.9],[24.631,1.05],[24.634,1],[24.637,1.1],[24.64,.95],[24.643,1.05],[24.646,1],[24.649,1.1],[24.652,.95],[24.655,1],[24.658,.9],[24.661,1.05],[24.664,.95],[24.667,1],[24.67,.9],[24.673,1.05],[24.676,.95],[24.679,.9],[24.682,.85],[24.685,.9],[24.688,.95],[24.691,1.1],[24.694,1.05],[24.697,.9],[24.7,1.05],[24.703,.95],[24.706,1],[24.709,.9],[24.712,.85],[24.715,.9],[24.718,.95],[24.721,1],[24.724,.9],[24.727,.85],[24.73,.9],[24.733,.8],[24.736,.95],[24.739,1],[24.742,.85],[24.745,.9],[24.748,1],[24.751,1.05],[24.754,.95],[24.757,1],[24.76,.85],[24.763,.95],[24.766,1.05],[24.769,.95],[24.772,1],[24.775,.85],[24.778,.9],[24.781,.8],[24.784,.9],[24.787,.85],[24.79,.95],[24.793,1],[24.796,.85],[24.799,.9],[24.802,.95],[24.805,.9],[24.808,.85],[24.811,.8],[24.62,.55],[24.63,.6],[24.64,.55],[24.65,.65],[24.66,.55],[24.67,.6],[24.68,.6],[24.69,.55],[24.7,.65],[24.71,.55],[24.72,.6],[24.73,.5],[24.74,.6],[24.75,.55],[24.76,.6],[24.77,.55],[24.78,.5],[24.79,.6],[24.8,.55],[24.81,.5]];
const gBand=[[24.612,.85],[24.811,.85]];
const gFloor=[[24.612,.2],[24.811,.2]];
const gRecX=[24.6,24.6145,24.615,24.6175,24.618,24.7255,24.727,24.7285,24.734,24.7345,24.7905,24.791,24.794,24.7945,24.82];
const gRecY=[0,0,31.6,4,0,0,5,10.5,10.5,0,0,13.3,13.3,0,0];
const gGenes=[["←PSME2",0,24.612,24.616,[24.612,24.613,24.614,24.615,24.616]],["REC8→",0,24.641,24.649,[24.641,24.642,24.643,24.646,24.648,24.649]],["TSSK4→",0,24.675,24.677,[24.675,24.676,24.677]],["GMPR2→",0,24.701,24.708,[24.701,24.702,24.703,24.705,24.707,24.708]],["←TGM1",0,24.718,24.732,[24.718,24.721,24.724,24.725,24.728,24.73,24.732]],["←DHRS1",0,24.76,24.769,[24.76,24.761,24.764,24.768,24.769]],["LTB4R→",0,24.78,24.787,[24.78,24.782,24.783,24.785,24.787]],["←RIPK3",0,24.805,24.809,[24.805,24.806,24.807,24.808,24.809]],
["←MIR7703",1,24.613],["←IPO4",1,24.649,24.658,[24.649,24.651,24.653,24.655,24.657,24.658]],["←CHMP4A",1,24.679,24.683,[24.679,24.681,24.683]],["←TINF2",1,24.709,24.712,[24.709,24.71,24.711,24.712]],["←RABGGTA",1,24.735,24.741,[24.735,24.737,24.739,24.741]],["NOP9→",1,24.769,24.778,[24.769,24.771,24.773,24.775,24.777,24.778]],["←ADCY4",1,24.787,24.804,[24.787,24.789,24.791,24.794,24.797,24.799,24.802,24.804]],
["RNF31→",2,24.616,24.63,[24.616,24.618,24.62,24.623,24.626,24.628,24.63]],["←TM9SF1",2,24.658,24.665,[24.658,24.66,24.662,24.665]],["←MDP1",2,24.683,24.685,[24.683,24.684,24.685]],["←CIDEB",2,24.774,24.78,[24.774,24.775,24.777,24.78]],
["IRF9→",3,24.63,24.636,[24.63,24.632,24.634,24.636]],["←NEDD8−MDP1",3,24.683,24.702,[24.683,24.684,24.687,24.702]],["LTB4R2→",3,24.779,24.781,[24.779,24.78,24.781]],
["←NEDD8",4,24.686,24.702,[24.686,24.687,24.702]]];

// ---- panel h: 14q CN-LOH rs10873520
const hPurple=[[101.176,38.45]];
const hRed=[[101.1647,36.65],[101.1657,36.85],[101.1676,36.95],[101.1687,36.8],[101.1704,38.05],[101.1715,37.6],[101.1729,37.8],[101.1725,36.7],[101.1779,38.1],[101.1787,37.8],[101.1782,37.2],[101.1757,34.8],[101.176,34.5],[101.181,35.1],[101.1818,35.2]];
const hOrange=[[101.1866,33.55],[101.1782,31.7],[101.18,31.1],[101.1622,27.15],[101.1563,26.3]];
const hGreen=[[101.1738,20.25],[101.1731,19.7],[101.1546,19],[101.1488,18.8],[101.1499,18.6],[101.1481,18.2],[101.1681,11.6]];
const hSky=[[101.141,16.5],[101.1766,14.9],[101.1432,12.8],[101.1851,13],[101.1815,11.8],[101.1238,9.8],[101.1396,10.35],[101.1381,10],[101.1324,9.05],[101.1249,8.65],[101.1256,8.55],[101.129,8],[101.1303,8.1],[101.1308,8.1],[101.135,8.85],[101.1366,8.85],[101.1357,7.75],[101.1388,7.6],[101.1404,7.7],[101.145,7.6],[101.1457,8.1],[101.1462,8.25],[101.1793,10.75],[101.1822,11],[101.1841,10.75],[101.1863,10.75],[101.1887,10.65],[101.1876,9.9],[101.1929,10],[101.2121,8.6],[101.2154,7]];
const hNavy=[[101.1479,9.95],[101.1621,9.8],[101.191,9.85],[101.1966,9.2],[101.154,8.55],[101.166,8.95],[101.1674,8.75],[101.1685,9.4],[101.1704,9.05],[101.1819,8.6],[101.1829,8.7],[101.191,8.25],[101.1241,7.95],[101.1862,7.4],[101.1553,7.1],[101.1554,6.85],[101.1606,6.9],[101.1616,6.5],[101.1722,6.9],[101.1909,7.35],[101.1939,7.45],[101.1215,6.55],[101.1331,6.35],[101.1334,5.5],[101.1144,5.25],[101.1165,5.4],[101.1197,5.5],[101.1256,5.35],[101.1509,5.6],[101.1499,5.4],[101.1484,4.95],[101.1672,5.65],[101.1689,5.35],[101.1719,5.9],[101.1737,5.9],[101.1771,5.95],[101.1847,5.75],[101.1863,5.5],[101.1965,5.95],[101.2275,5.95],[101.2332,5],[101.1587,4.9],[101.1609,4.8],[101.1631,4.8],[101.2043,4.5],[101.2094,4.2],[101.2215,4.8],[101.2181,4.1],[101.2147,3.65],[101.2219,4.3],[101.2241,3.7],[101.2388,4.5],[101.2406,4.5],[101.2374,3.9],[101.2606,3.55],[101.2482,3.25],[101.1125,4.05],[101.1124,3.05],[101.1497,4.2],[101.1544,4.35],[101.14,3.8],[101.141,3.7],[101.1425,3.25],[101.1447,3.15],[101.0976,3.15],[101.1043,3.05],[101.1481,3.05],[101.1734,3.3],[101.1749,3.2],[101.1768,3.55],[101.1689,2.95],[101.1694,2.65],[101.1749,2.8],[101.1815,2.8],[101.1849,2.65],[101.188,2.65],[101.1528,2.8],[101.155,2.65],[101.1315,2.9],[101.1069,2.65],[101.1175,2.55],[101.0913,2.55],[101.201,2.55],[101.2065,2.3],[101.2106,2.9],[101.2135,2.8],[101.2196,2.4],[101.2246,2.45],[101.2282,2.7],[101.23,2.65],[101.2356,2.65],[101.2582,2.65],[101.263,2.95],[101.2657,2.65],[101.196,2.3],[101.2528,2.4],[101.2437,3.15]];
const hMass=[[101.076,1.5],[101.079,1.1],[101.082,1.3],[101.085,1.2],[101.088,1.6],[101.091,1.3],[101.094,1.5],[101.097,1.7],[101.1,1.5],[101.103,1.7],[101.106,1.8],[101.109,1.7],[101.112,1.9],[101.115,1.8],[101.118,1.7],[101.121,1.9],[101.124,1.7],[101.127,1.8],[101.13,1.9],[101.133,1.7],[101.136,1.6],[101.139,1.8],[101.142,1.7],[101.145,1.9],[101.148,1.7],[101.151,1.4],[101.154,1.8],[101.157,1.6],[101.16,1.7],[101.163,1.5],[101.166,1.9],[101.169,1.6],[101.172,1.5],[101.175,1.7],[101.178,1.9],[101.181,1.7],[101.184,1.6],[101.187,1.8],[101.19,1.5],[101.193,1.7],[101.196,1.8],[101.199,1.6],[101.202,1.7],[101.205,1.5],[101.208,1.8],[101.211,1.6],[101.214,1.8],[101.217,1.7],[101.22,1.9],[101.223,1.7],[101.226,1.5],[101.229,1.6],[101.232,1.7],[101.235,1.8],[101.238,1.9],[101.241,1.8],[101.244,1.9],[101.247,1.7],[101.25,1.5],[101.253,1.7],[101.256,1.4],[101.259,1.6],[101.262,1.7],[101.265,1.8],[101.268,1.7],[101.271,1.6],[101.274,1.4],[101.276,1.6],[101.085,.8],[101.1,.9],[101.115,1],[101.13,1],[101.145,.9],[101.16,1],[101.175,.9],[101.19,1],[101.205,.9],[101.22,1],[101.235,1],[101.25,.9],[101.265,.95]];
const hBand=[[101.0757,1.4],[101.276,1.4]];
const hFloor=[[101.0757,.8],[101.276,.8]];
const hRecX=[101.07,101.11,101.1103,101.112,101.1124,101.1228,101.123,101.1235,101.145,101.1455,101.147,101.148,101.2432,101.2437,101.2469,101.2475,101.2595,101.2606,101.2635,101.2645,101.28];
const hRecY=[0,0,14.8,14.8,0,0,11.7,0,0,6.4,6.4,0,0,11.3,11,0,0,7.2,4,0,0];
const hGenes=[["LINC00523→",0,101.1238,101.1388,[101.1238,101.1381,101.1385,101.1388]],["DLK1→",0,101.1932,101.2013,[101.1932,101.1945,101.198,101.2012]]];

// ---- panel i: 14q CN-LOH rs2853677
const iPurple=[[1.2871,21.8]];
const iOrange=[[1.2872,13.58]];
const iGreen=[[1.2865,16.37],[1.2929,8.73],[1.2965,8.73]];
const iSky=[[1.2822,17.4],[1.2823,17.18],[1.2859,17.77],[1.2807,12.2],[1.2808,12.08],[1.2809,11.6],[1.2786,11.46],[1.2801,11.35],[1.2961,10.39],[1.2953,9.92],[1.2941,9.44],[1.3002,4.87]];
const iNavy=[[1.2966,7.97],[1.2969,6.99],[1.2973,6.65],[1.2777,6.85],[1.2804,6.7],[1.2996,6.42],[1.3002,5.89],[1.2978,5.75],[1.2992,5.52],[1.3002,5.41],[1.2708,3.89],[1.2716,3.18],[1.2768,3.44],[1.2775,3.04],[1.2798,3.55],[1.2745,2.39],[1.323,3.32],[1.3,3.21],[1.2986,3.01],[1.3316,2.62],[1.3349,2.9],[1.3369,2.93],[1.2418,2.54],[1.2472,2.45],[1.2529,2.5],[1.2576,2.31],[1.2602,2.45],[1.2651,2.45],[1.2661,2.73],[1.3029,2.34],[1.2715,2],[1.2696,1.8],[1.2781,1.69],[1.2807,1.55],[1.299,2.08],[1.3004,1.97],[1.3041,1.69],[1.3189,2.17],[1.3219,2.11],[1.323,1.83],[1.3134,1.94],[1.3149,1.66],[1.3121,1.6],[1.2438,1.97],[1.2488,1.8],[1.2504,1.83],[1.2516,1.83],[1.2663,1.8],[1.2755,1.66],[1.2972,1.6],[1.2955,1.44],[1.3367,1.89],[1.3305,1.6],[1.3205,1.69],[1.2399,1.46],[1.2415,1.2],[1.2445,1.2],[1.246,1.1],[1.252,1.3],[1.2555,1.1],[1.2625,1.2],[1.2645,1.3],[1.2665,1.2],[1.2685,1.3],[1.2735,1.1],[1.2835,.7],[1.289,1.2],[1.2945,1.1],[1.3,1.1],[1.305,.9],[1.308,1],[1.311,1],[1.3165,1.1],[1.3185,1.2],[1.325,1],[1.3275,.9],[1.3335,1.1]];
const iMass=[[1.2375,.5],[1.239,.8],[1.2405,.6],[1.242,.9],[1.2435,.7],[1.245,.9],[1.2465,.5],[1.248,.6],[1.2495,.9],[1.251,.7],[1.2525,.5],[1.254,.6],[1.2555,.9],[1.257,.6],[1.2585,.4],[1.2605,.8],[1.262,.9],[1.2635,.7],[1.265,.9],[1.2665,.7],[1.268,.9],[1.2695,.7],[1.271,.8],[1.2725,.4],[1.274,.8],[1.2755,.9],[1.277,.6],[1.2785,.7],[1.28,.8],[1.2815,.6],[1.283,.3],[1.2845,.2],[1.286,.5],[1.2875,.7],[1.289,.8],[1.2905,.3],[1.292,.4],[1.2935,.4],[1.295,.7],[1.2965,.6],[1.298,.8],[1.2995,.8],[1.301,.6],[1.3025,.4],[1.304,.6],[1.3055,.5],[1.307,.7],[1.3085,.6],[1.31,.4],[1.3115,.8],[1.313,.7],[1.3145,.5],[1.316,.7],[1.3175,.8],[1.319,.7],[1.3205,.9],[1.322,.8],[1.3235,.6],[1.325,.5],[1.3265,.6],[1.328,.6],[1.3295,.4],[1.331,.6],[1.3325,.7],[1.334,.6],[1.3355,.5],[1.3368,.6],[1.2385,.1],[1.241,.05],[1.244,.1],[1.247,.05],[1.25,.1],[1.2535,.05],[1.2565,.1],[1.26,.05],[1.263,.1],[1.266,.05],[1.269,.1],[1.272,.05],[1.2755,.1],[1.279,.05],[1.282,.1],[1.288,.1],[1.291,.05],[1.294,.1],[1.297,.05],[1.3,.1],[1.303,.05],[1.306,.1],[1.309,.05],[1.312,.1],[1.315,.05],[1.318,.1],[1.321,.05],[1.324,.1],[1.327,.05],[1.33,.1],[1.333,.05],[1.336,.1]];
const iBand=[[1.2371,.35],[1.28,.4],[1.2835,.1],[1.285,.1],[1.288,.4],[1.337,.35]];
const iFloor=[[1.2371,.05],[1.337,.05]];
const iRecX=[1.23,1.2525,1.253,1.2602,1.2699,1.286,1.2928,1.294,1.2945,1.34];
const iRecY=[0,0,1.5,2.5,4.7,5.3,4.1,2,0,0];
const iGenes=[["SLC6A18→",0,1.2371,1.2462,[1.2379,1.2399,1.2408,1.2425,1.2436,1.2444,1.2448,1.2462]],["←TERT",0,1.2534,1.2952,[1.2534,1.2536,1.2545,1.2555,1.2586,1.2605,1.2645,1.2665,1.2685,1.2713,1.2723,1.2788,1.2795,1.2804,1.2828,1.2935,1.2939,1.2944,1.2948,1.2952]],["←MIR4457",0,1.3094],["←CLPTM1L",0,1.3179,1.337,[1.3179,1.3181,1.3207,1.3218,1.3228,1.3239,1.3247,1.3259,1.3301,1.3319,1.3345,1.3352]]];

// r2 colour key
const keyColors=["#ff0000","#ffa500","#00ff00","#87cefa","#000080"];
const keyLabels=["0.8","0.6","0.4","0.2"];

// layout of each panel, in page pixels
const panels=[
 {L:80,R:737,T:2,B:411,xMin:90.55,xMax:91.35,yMin:-1.17,yMax:25.5,rMin:-4.83,rMax:104.8,yT:[0,5,10,15,20,25],yL:[0,5,10,15,20],
  xT:[90.6,90.8,91,91.2],gT:428,gB:480,letter:["a",42,17],head:[["8q CN-LOH",168,22],["rs756831345",342,22]],yTitle:[18,202],rTitle:[804,193],key:[86,8,55,131,94,31,14,102],
  sets:{purple:aPurple,red:aRed,orange:aOrange,navy:aNavy},mass:aMass,band:aBand,floor:aFloor,fillBase:-.26,recX:aRecX,recY:aRecY,genes:aGenes},
 {L:895,R:1553.5,T:2,B:387,xMin:93.76,xMax:94.56,yMin:-.514,yMax:10.49,rMin:-5.16,rMax:105.1,yT:[0,2,4,6,8,10],yL:[0,2,4,6,8],
  xT:[93.8,94,94.2,94.4],gT:403,gB:482,letter:["b",858,23],head:[["11q CN-LOH",978,27],["11:94160189",1159,25]],yTitle:[830,213],rTitle:[1619,192],key:[1492,9,55,131,1499,32,13,102],
  sets:{purple:bPurple,sky:bSky,navy:bNavy},mass:bMass,band:bBand,floor:bFloor,fillBase:-.11,recX:bRecX,recY:bRecY,genes:bGenes},
 {L:77,R:737,T:529,B:913,xMin:88.681,xMax:88.8816,yMin:-1.02,yMax:22.1,rMin:-4.87,rMax:105.1,yT:[0,5,10,15,20],yL:[0,5,10,15,20],
  xT:[88.7,88.75,88.8,88.85],gT:930,gB:1008,letter:["c",42,533],head:[["16q CN-LOH",172,547],["rs200779411",342,547]],yTitle:[18,761],rTitle:[804,719],key:[85,536,54,131,92,559,13,102],
  sets:{purple:cPurple,navy:cNavy},mass:cMass,band:cBand,floor:cFloor,fillBase:-.24,recX:cRecX,recY:cRecY,genes:cGenes},
 {L:897,R:1555,T:529,B:861,xMin:1.576,xMax:2.375,yMin:-1.21,yMax:25.5,rMin:-4.97,rMax:105,yT:[0,5,10,15,20,25],yL:[0,5,10,15,20],
  xT:[1.6,1.8,2,2.2],gT:878,gB:1008,letter:["d",857,533],head:[["chr5 gain",1001,553],["rs12699483",1162,549]],yTitle:[838,715],rTitle:[1630,696],key:[1495,536,54,131,1502,559,13,102],
  sets:{purple:dPurple,red:dRed,orange:dOrange,green:dGreen,sky:dSky,navy:dNavy},mass:dMass,band:dBand,floor:dFloor,fillBase:-.32,recX:dRecX,recY:dRecY,genes:dGenes},
 {L:79,R:734,T:1057,B:1257,xMin:42.75,xMax:48.15,yMin:-.86,yMax:20.5,rMin:-4.36,rMax:104.6,yT:[0,5,10,15,20],yL:[0,5,10,15,20],
  xT:[43,44,45,46,47,48],gT:1274,gB:1536,letter:["e",34,1047],head:[["1p CN-LOH",177,1070],["rs560932816",335,1067]],yTitle:[17,1177],rTitle:[810,1181],key:[86,1064,54,131,93,1087,14,101],
  sets:{purple:ePurple,red:eRed,orange:eOrange,green:eGreen,sky:eSky,navy:eNavy},mass:eMass,band:eBand,floor:eFloor,fillBase:-.48,recX:eRecX,recY:eRecY,genes:eGenes},
 {L:897.5,R:1553,T:1057.5,B:1468,xMin:4.727,xMax:5.326,yMin:-.56,yMax:11.9,rMin:-4.96,rMax:104.6,yT:[0,2,4,6,8,10],yL:[0,2,4,6,8,10],
  xT:[4.8,4.9,5,5.1,5.2,5.3],gT:1484.5,gB:1537,letter:["f",854,1054],head:[["9p CN-LOH",1000,1076],["rs2183137",1164,1076]],yTitle:[843.5,1236],rTitle:[1626,1247],key:[904,1064,55,131,912,1087,13,102],
  sets:{purple:fPurple,red:fRed,orange:fOrange,green:fGreen,sky:fSky,navy:fNavy},mass:fMass,band:fBand,floor:fFloor,fillBase:-.15,recX:fRecX,recY:fRecY,genes:fGenes},
 {L:48,R:519,T:1584,B:1822,xMin:24.612,xMax:24.812,yMin:-.72,yMax:13.5,rMin:-5.58,rMax:104.65,yT:[0,2,4,6,8,10,12],yL:[0,4,8,12],small:true,noRightLabels:true,
  xT:[24.65,24.7,24.75,24.8],gT:1833,gB:1927,letter:["g",6,1583],head:[["14q CN-LOH",80,1603],["rs28372734",228,1603]],yTitle:[12,1693],key:[53,1589,39,94,58,1606,10,72],
  sets:{purple:gPurple,red:gRed,orange:gOrange,green:gGreen,sky:gSky,navy:gNavy},mass:gMass,band:gBand,floor:gFloor,fillBase:-.18,recX:gRecX,recY:gRecY,genes:gGenes},
 {L:568,R:1036.5,T:1587,B:1898,xMin:101.0757,xMax:101.276,yMin:-2.09,yMax:44.4,rMin:-4.93,rMax:104.6,yT:[0,10,20,30,40],yL:[0,10,20,30,40],small:true,noRightLabels:true,
  xT:[101.1,101.15,101.2,101.25],gT:1910,gB:1928,letter:["h",537,1588],head:[["14q CN-LOH",604,1605],["rs10873520",758,1605]],key:[992,1591,40,93,998,1608,10,72],
  sets:{purple:hPurple,red:hRed,orange:hOrange,green:hGreen,sky:hSky,navy:hNavy},mass:hMass,band:hBand,floor:hFloor,fillBase:-.55,recX:hRecX,recY:hRecY,genes:hGenes},
 {L:1092.6,R:1561,T:1581,B:1893,xMin:1.2371,xMax:1.337,yMin:-1.18,yMax:25.1,rMin:-4.93,rMax:104.9,yT:[0,5,10,15,20,25],yL:[0,5,10,15,20],small:true,
  xT:[1.24,1.26,1.28,1.3,1.32],gT:1905,gB:1923,letter:["i",1059,1590],head:[["14q CN-LOH",1133,1597],["rs2853677",1284,1597]],rTitle:[1630,1720],key:[1517,1585,39,94,1523,1602,9,72],
  sets:{purple:iPurple,orange:iOrange,green:iGreen,sky:iSky,navy:iNavy},mass:iMass,band:iBand,floor:iFloor,fillBase:-.23,recX:iRecX,recY:iRecY,genes:iGenes}
];

const dotStyle={purple:["#7d26cd",0],red:["#ff0000",1],orange:["#ffa500",2],green:["#00ff00",3],sky:["#87cefa",4],navy:["#000080",5]};
const FONT='"Liberation Sans", Arial, sans-serif';
const PURPLE_TXT="#6a2a9e";
const pts=a=>a.map(([x,y])=>({x,y}));

// overplotted look for the dense band: navy discs with grey rims, as a fill pattern
function overplotPattern(r){
  const t=document.createElement("canvas");
  t.width=Math.round(r*8);t.height=Math.round(r*4);
  const c=t.getContext("2d");
  c.fillStyle="#2b2b45";c.fillRect(0,0,t.width,t.height);
  const spots=[[.1,.2],[.35,.7],[.6,.15],[.85,.6],[.22,.95],[.5,.45],[.75,.95],[.98,.1]];
  spots.forEach(([a,b])=>{
    c.beginPath();c.arc(a*t.width,b*t.height,r*.85,0,Math.PI*2);
    c.fillStyle="#000080";c.fill();c.strokeStyle="#333";c.lineWidth=1.1;c.stroke();
  });
  return t;
}

function addCanvas(left,top,w,h){
  const c=document.createElement("canvas");
  c.width=w;c.height=h;
  c.style.left=left+"px";c.style.top=top+"px";c.style.width=w+"px";c.style.height=h+"px";
  document.body.appendChild(c);
  return c;
}

function drawPanel(p){
  const mL=80,mR=90,mT=30,mB=80;
  const left=Math.round(p.L)-mL,top=Math.round(p.T)-mT;
  const w=Math.round(p.R)-Math.round(p.L)+mL+mR,h=Math.round(p.B)-Math.round(p.T)+mT+mB;
  const cv=addCanvas(left,top,w,h);
  const r=p.small?3.5:4.9;
  const pattern=cv.getContext("2d").createPattern(overplotPattern(r),"repeat");
  const datasets=[];
  for(const k in p.sets){
    datasets.push({type:"scatter",data:pts(p.sets[k]),xAxisID:"x",yAxisID:"y",order:dotStyle[k][1],clip:0,
      pointRadius:r,pointBackgroundColor:dotStyle[k][0],pointBorderColor:"#333",pointBorderWidth:1});
  }
  datasets.push({type:"scatter",data:pts(p.mass),xAxisID:"x",yAxisID:"y",order:6,clip:0,pointRadius:r,pointBackgroundColor:"#000080",pointBorderColor:"#333",pointBorderWidth:1});
  datasets.push({type:"line",data:pts(p.floor),xAxisID:"x",yAxisID:"y",order:7,pointRadius:0,borderWidth:0,fill:{value:p.fillBase},backgroundColor:"#333333",clip:0});
  datasets.push({type:"line",data:pts(p.band),xAxisID:"x",yAxisID:"y",order:8,pointRadius:0,borderWidth:0,fill:{value:p.fillBase},backgroundColor:pattern,clip:0});
  datasets.push({type:"line",data:p.recX.map((x,i)=>({x,y:p.recY[i]})),xAxisID:"x",yAxisID:"yR",order:9,pointRadius:0,borderColor:"#3333ff",borderWidth:1.6,fill:false,tension:0,clip:0});

  const textPlugin={id:"panelText",afterDraw(chart){
    const ctx=chart.ctx,a=chart.chartArea;
    ctx.save();
    ctx.strokeStyle="#999";ctx.lineWidth=2;
    ctx.strokeRect(a.left,a.top,a.right-a.left,a.bottom-a.top);
    ctx.translate(-left,-top);
    drawKey(ctx,p);
    ctx.fillStyle="#000";ctx.textBaseline="alphabetic";ctx.textAlign="left";
    ctx.font="bold 30px "+FONT;
    ctx.fillText(p.letter[0],p.letter[1],p.letter[2]);
    ctx.font="bold 22px "+FONT;ctx.textBaseline="middle";
    p.head.forEach(t=>ctx.fillText(t[0],t[1],t[2]));
    if(p.yTitle){
      ctx.save();ctx.translate(p.yTitle[0],p.yTitle[1]);ctx.rotate(-Math.PI/2);
      ctx.font="22px "+FONT;
      const w1=ctx.measureText("-log").width,w3=ctx.measureText("(p-value)").width;
      ctx.font="15px "+FONT;const w2=ctx.measureText("10").width;
      let x=-(w1+w2+w3)/2;
      ctx.font="22px "+FONT;ctx.fillText("-log",x,0);x+=w1;
      ctx.font="15px "+FONT;ctx.fillText("10",x,6);x+=w2;
      ctx.font="22px "+FONT;ctx.fillText("(p-value)",x,0);
      ctx.restore();
    }
    if(p.rTitle){
      ctx.save();ctx.translate(p.rTitle[0],p.rTitle[1]);ctx.rotate(Math.PI/2);
      ctx.font="22px "+FONT;ctx.fillStyle=PURPLE_TXT;ctx.textAlign="center";
      ctx.fillText("Recombination rate (cM/Mb)",0,0);
      ctx.restore();
    }
    ctx.restore();
  }};

  new Chart(cv,{type:"scatter",data:{datasets},plugins:[textPlugin],options:{
    responsive:false,animation:false,events:[],
    layout:{padding:{top:mT,bottom:mB,left:0,right:0}},
    plugins:{legend:{display:false},tooltip:{enabled:false},title:{display:false}},
    scales:{
      x:{type:"linear",display:false,min:p.xMin,max:p.xMax},
      y:{type:"linear",position:"left",min:p.yMin,max:p.yMax,
        afterBuildTicks(s){s.ticks=p.yT.map(v=>({value:v}))},
        afterFit(s){s.width=mL},
        border:{display:false},
        grid:{drawOnChartArea:false,drawTicks:true,tickLength:9,color:"#888",lineWidth:1},
        ticks:{autoSkip:false,maxRotation:0,padding:4,color:"#000",font:{family:FONT,size:21,weight:"bold"},
          callback:v=>p.yL.includes(v)?String(v):""}},
      yR:{type:"linear",position:"right",min:p.rMin,max:p.rMax,
        afterBuildTicks(s){s.ticks=[0,20,40,60,80,100].map(v=>({value:v}))},
        afterFit(s){s.width=mR},
        border:{display:false},
        grid:{drawOnChartArea:false,drawTicks:true,tickLength:9,color:"#8080ff",lineWidth:1},
        ticks:{autoSkip:false,maxRotation:0,padding:7,color:PURPLE_TXT,font:{family:FONT,size:21,weight:"bold"},
          callback:v=>p.noRightLabels?"":String(v)}}
    }
  }});
  drawGenes(p);
}

function drawKey(ctx,p){
  const [x,y,w,h,bx,by,bw,bh]=p.key;
  const small=p.small;
  ctx.save();
  ctx.fillStyle="#fff";ctx.fillRect(x,y,w,h);
  ctx.strokeStyle="#999";ctx.lineWidth=1.5;ctx.strokeRect(x,y,w,h);
  const step=bh/5;
  keyColors.forEach((c,i)=>{ctx.fillStyle=c;ctx.fillRect(bx,by+i*step,bw,step)});
  ctx.strokeStyle="#777";ctx.lineWidth=1;ctx.strokeRect(bx,by,bw,bh);
  ctx.font=(small?9:12)+"px "+FONT;ctx.fillStyle="#666";ctx.textAlign="left";ctx.textBaseline="middle";
  keyLabels.forEach((t,i)=>{
    const ty=by+(i+1)*step;
    ctx.beginPath();ctx.moveTo(bx+bw,ty);ctx.lineTo(bx+bw+(small?3:5),ty);ctx.stroke();
    ctx.fillText(t,bx+bw+(small?4:7),ty);
  });
  ctx.font=(small?10:14)+"px "+FONT;ctx.textAlign="center";
  ctx.fillText("r²",bx+bw*(small?1.6:1.2),y+(small?8:13));
  ctx.restore();
}

function drawGenes(p){
  const pad=30,bottom=42,lift=p.small?1:3;
  const left=Math.round(p.L)-pad,top=Math.round(p.gT)-2-lift;
  const W=Math.round(p.R)-Math.round(p.L)+pad*2,H=Math.round(p.gB)-Math.round(p.gT)+2+lift+bottom;
  const cv=addCanvas(left,top,W,H);
  const first=p.small?13:19,space=p.small?18.7:26.2,boxH=p.gB-p.gT;
  const lines=[],marks=[];
  p.genes.forEach(([label,row,s,e,exons])=>{
    const end=e===undefined?s:e;
    if(end>s){lines.push({x:s,y:row},{x:end,y:row},{x:s,y:null})}
    (exons||[s]).forEach(x=>marks.push({x,y:row}));
  });
  const labelPlugin={id:"geneText",afterDraw(chart){
    const ctx=chart.ctx,a=chart.chartArea,sx=chart.scales.x,sy=chart.scales.y;
    const nameFont="italic "+(p.small?10:12)+"px "+FONT,arrowFont=(p.small?10:13)+'px "DejaVu Sans"';
    ctx.save();
    ctx.strokeStyle="#999";ctx.lineWidth=2;
    ctx.strokeRect(a.left,a.top,a.right-a.left,a.bottom-a.top);
    ctx.fillStyle="#222";ctx.textBaseline="middle";ctx.textAlign="left";
    p.genes.forEach(([label,row,s,e])=>{
      const end=e===undefined?s:e;
      const leftArrow=label[0]==="←";
      const arrow=leftArrow?label[0]:label[label.length-1];
      const name=leftArrow?label.slice(1):label.slice(0,-1);
      ctx.font=nameFont;const nw=ctx.measureText(name).width;
      ctx.font=arrowFont;const aw=ctx.measureText(arrow).width;
      const tw=nw+aw;
      let tx=sx.getPixelForValue((s+end)/2)-tw/2;
      tx=Math.max(a.left+2,Math.min(a.right-tw-2,tx));
      const ty=sy.getPixelForValue(row)-(p.small?6:10);
      if(leftArrow){
        ctx.font=arrowFont;ctx.fillText(arrow,tx,ty);
        ctx.font=nameFont;ctx.fillText(name,tx+aw,ty);
      }else{
        ctx.font=nameFont;ctx.fillText(name,tx,ty);
        ctx.font=arrowFont;ctx.fillText(arrow,tx+nw,ty);
      }
    });
    ctx.restore();
  }};
  new Chart(cv,{type:"scatter",data:{datasets:[
    {type:"scatter",showLine:true,data:lines,borderColor:"#2020b0",borderWidth:1.4,pointRadius:0,spanGaps:false,clip:0,order:2},
    {type:"scatter",data:marks,pointStyle:"line",rotation:90,pointRadius:p.small?2.5:3.5,pointBorderColor:"#000080",pointBorderWidth:p.small?1.8:2.4,clip:false,order:1}
  ]},plugins:[labelPlugin],options:{
    responsive:false,animation:false,events:[],
    layout:{padding:{top:2,bottom:0,left:pad,right:pad}},
    plugins:{legend:{display:false},tooltip:{enabled:false}},
    scales:{
      y:{type:"linear",display:false,reverse:true,min:-first/space,max:(boxH+lift-first)/space},
      x:{type:"linear",position:"bottom",min:p.xMin,max:p.xMax,
        afterBuildTicks(s){s.ticks=p.xT.map(v=>({value:v}))},
        afterFit(s){s.height=bottom},
        border:{display:false},
        grid:{drawOnChartArea:false,drawTicks:true,tickLength:p.small?5:8,color:"#888",lineWidth:1},
        ticks:{autoSkip:false,maxRotation:0,padding:p.small?6:7,color:"#555",font:{family:FONT,size:p.small?10:15},callback:v=>String(v)}}
    }
  }});
}

panels.forEach(drawPanel);
</script>
</body>
</html>
